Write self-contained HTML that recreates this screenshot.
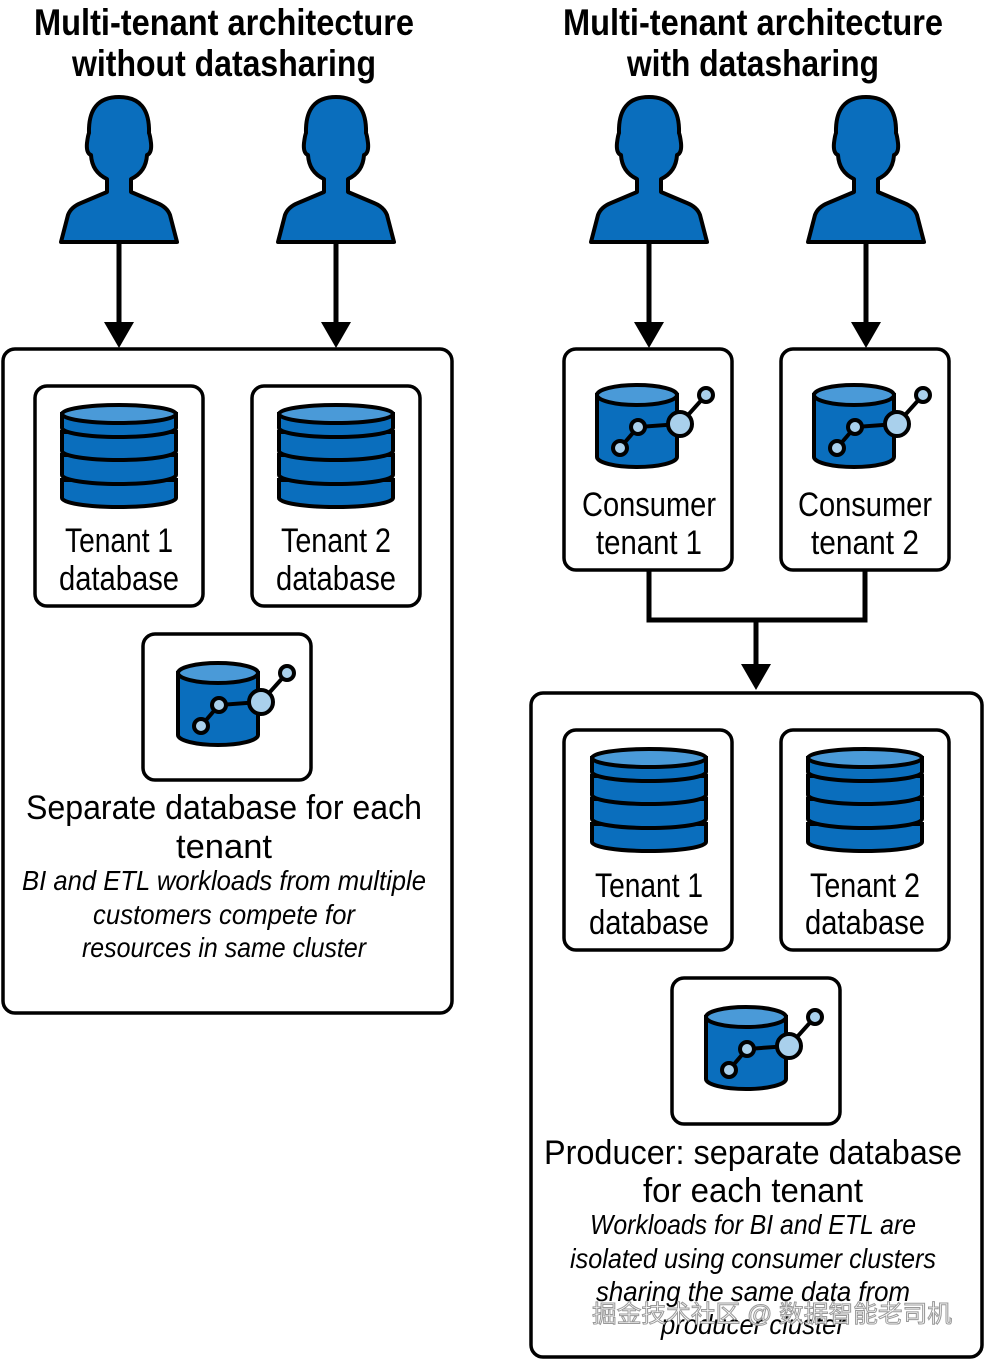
<!DOCTYPE html>
<html><head><meta charset="utf-8"><style>html,body{margin:0;padding:0;background:#fff}svg{display:block}</style></head><body>
<svg width="984" height="1360" viewBox="0 0 984 1360" xmlns="http://www.w3.org/2000/svg" font-family="Liberation Sans, sans-serif">
<defs>
<g id="person">
<path d="M -58 145 L -51 118 Q -48 110 -38 106 L -12 95 L -12 82 Q -27 75 -28 58 Q -33 56 -32 46 Q -31 38 -30 36 Q -31 0 0 0 Q 31 0 30 36 Q 31 38 32 46 Q 33 56 28 58 Q 27 75 12 82 L 12 95 L 38 106 Q 48 110 51 118 L 58 145 Z" fill="#0a6ebd" stroke="#000" stroke-width="4" stroke-linejoin="round"/>
</g>
<g id="stack" stroke="#000" stroke-width="4">
<path d="M-57 75 L-57 93 A57 9 0 0 0 57 93 L57 75 Z" fill="#0a6ebd"/>
<path d="M-57 50 L-57 70 A57 9 0 0 0 57 70 L57 50 Z" fill="#0a6ebd"/>
<path d="M-57 27 L-57 46 A57 9 0 0 0 57 46 L57 27 Z" fill="#0a6ebd"/>
<path d="M-57 9 L-57 23 A57 9 0 0 0 57 23 L57 9 Z" fill="#0a6ebd"/>
<ellipse cx="0" cy="9" rx="57" ry="9" fill="#4a9ad8"/>
</g>
<g id="cluster" stroke="#000" stroke-width="4">
<path d="M-40 10 L-40 72 A40 10 0 0 0 40 72 L40 10 Z" fill="#0a6ebd"/>
<ellipse cx="0" cy="10" rx="40" ry="10" fill="#4a9ad8"/>
<polyline points="-17,63 1,42 43,39 69,10" fill="none"/>
<circle cx="-17" cy="63" r="7" fill="#a9d0ec"/>
<circle cx="1" cy="42" r="7" fill="#a9d0ec"/>
<circle cx="43" cy="39" r="12" fill="#a9d0ec"/>
<circle cx="69" cy="10" r="7" fill="#a9d0ec"/>
</g>
<g id="arrow">
<line x1="0" y1="0" x2="0" y2="82" stroke="#000" stroke-width="5"/>
<polygon points="-15,80 15,80 0,106" fill="#000"/>
</g>
</defs>

<g font-size="37" font-weight="bold" text-anchor="middle" fill="#000">
<text x="224" y="35" textLength="380" lengthAdjust="spacingAndGlyphs">Multi-tenant architecture</text>
<text x="224" y="76" textLength="304" lengthAdjust="spacingAndGlyphs">without datasharing</text>
<text x="753" y="35" textLength="380" lengthAdjust="spacingAndGlyphs">Multi-tenant architecture</text>
<text x="753" y="76" textLength="252" lengthAdjust="spacingAndGlyphs">with datasharing</text>
</g>

<use href="#person" x="119" y="97"/>
<use href="#person" x="336" y="97"/>
<use href="#person" x="649" y="97"/>
<use href="#person" x="866" y="97"/>
<use href="#arrow" x="119" y="242"/>
<use href="#arrow" x="336" y="242"/>
<use href="#arrow" x="649" y="242"/>
<use href="#arrow" x="866" y="242"/>

<g fill="#fff" stroke="#000" stroke-width="3.5">
<rect x="3" y="349" width="449" height="664" rx="12"/>
<rect x="35" y="386" width="168" height="220" rx="12"/>
<rect x="252" y="386" width="168" height="220" rx="12"/>
<rect x="143" y="634" width="168" height="146" rx="12"/>
<rect x="564" y="349" width="168" height="221" rx="12"/>
<rect x="781" y="349" width="168" height="221" rx="12"/>
<rect x="531" y="693" width="451" height="664" rx="12"/>
<rect x="564" y="730" width="168" height="220" rx="12"/>
<rect x="781" y="730" width="168" height="220" rx="12"/>
<rect x="672" y="978" width="168" height="146" rx="12"/>
</g>

<polyline points="649,570 649,620 865,620 865,570" fill="none" stroke="#000" stroke-width="5"/>
<line x1="756" y1="620" x2="756" y2="665" stroke="#000" stroke-width="5"/>
<polygon points="741,664 771,664 756,690" fill="#000"/>

<use href="#stack" x="119" y="405"/>
<use href="#stack" x="336" y="405"/>
<use href="#stack" x="649" y="749"/>
<use href="#stack" x="865" y="749"/>
<use href="#cluster" x="637" y="385"/>
<use href="#cluster" x="854" y="385"/>
<use href="#cluster" x="218" y="663"/>
<use href="#cluster" x="746" y="1007"/>

<g font-size="34" text-anchor="middle" fill="#000">
<text x="119" y="552" textLength="108" lengthAdjust="spacingAndGlyphs">Tenant 1</text>
<text x="119" y="590" textLength="120" lengthAdjust="spacingAndGlyphs">database</text>
<text x="336" y="552" textLength="110" lengthAdjust="spacingAndGlyphs">Tenant 2</text>
<text x="336" y="590" textLength="120" lengthAdjust="spacingAndGlyphs">database</text>
<text x="649" y="516" textLength="134" lengthAdjust="spacingAndGlyphs">Consumer</text>
<text x="649" y="554" textLength="106" lengthAdjust="spacingAndGlyphs">tenant 1</text>
<text x="865" y="516" textLength="134" lengthAdjust="spacingAndGlyphs">Consumer</text>
<text x="865" y="554" textLength="108" lengthAdjust="spacingAndGlyphs">tenant 2</text>
<text x="649" y="897" textLength="108" lengthAdjust="spacingAndGlyphs">Tenant 1</text>
<text x="649" y="934" textLength="120" lengthAdjust="spacingAndGlyphs">database</text>
<text x="865" y="897" textLength="110" lengthAdjust="spacingAndGlyphs">Tenant 2</text>
<text x="865" y="934" textLength="120" lengthAdjust="spacingAndGlyphs">database</text>
<text x="224" y="819" textLength="396" lengthAdjust="spacingAndGlyphs">Separate database for each</text>
<text x="224" y="858" textLength="96" lengthAdjust="spacingAndGlyphs">tenant</text>
<text x="753" y="1164" textLength="418" lengthAdjust="spacingAndGlyphs">Producer: separate database</text>
<text x="753" y="1202" textLength="220" lengthAdjust="spacingAndGlyphs">for each tenant</text>
</g>
<g font-size="28" font-style="italic" text-anchor="middle" fill="#000">
<text x="224" y="890" textLength="404" lengthAdjust="spacingAndGlyphs">BI and ETL workloads from multiple</text>
<text x="224" y="924" textLength="262" lengthAdjust="spacingAndGlyphs">customers compete for</text>
<text x="224" y="957" textLength="284" lengthAdjust="spacingAndGlyphs">resources in same cluster</text>
<text x="753" y="1234" textLength="326" lengthAdjust="spacingAndGlyphs">Workloads for BI and ETL are</text>
<text x="753" y="1268" textLength="366" lengthAdjust="spacingAndGlyphs">isolated using consumer clusters</text>
<text x="753" y="1301" textLength="314" lengthAdjust="spacingAndGlyphs">sharing the same data from</text>
<text x="753" y="1334" textLength="184" lengthAdjust="spacingAndGlyphs">producer cluster</text>
</g>
<text x="772" y="1322" font-size="24" text-anchor="middle" fill="#fff" stroke="#999" stroke-width="1" font-family="Liberation Sans, Noto Sans CJK SC, sans-serif" textLength="360" lengthAdjust="spacingAndGlyphs">掘金技术社区 @ 数据智能老司机</text>
</svg>
</body></html>
